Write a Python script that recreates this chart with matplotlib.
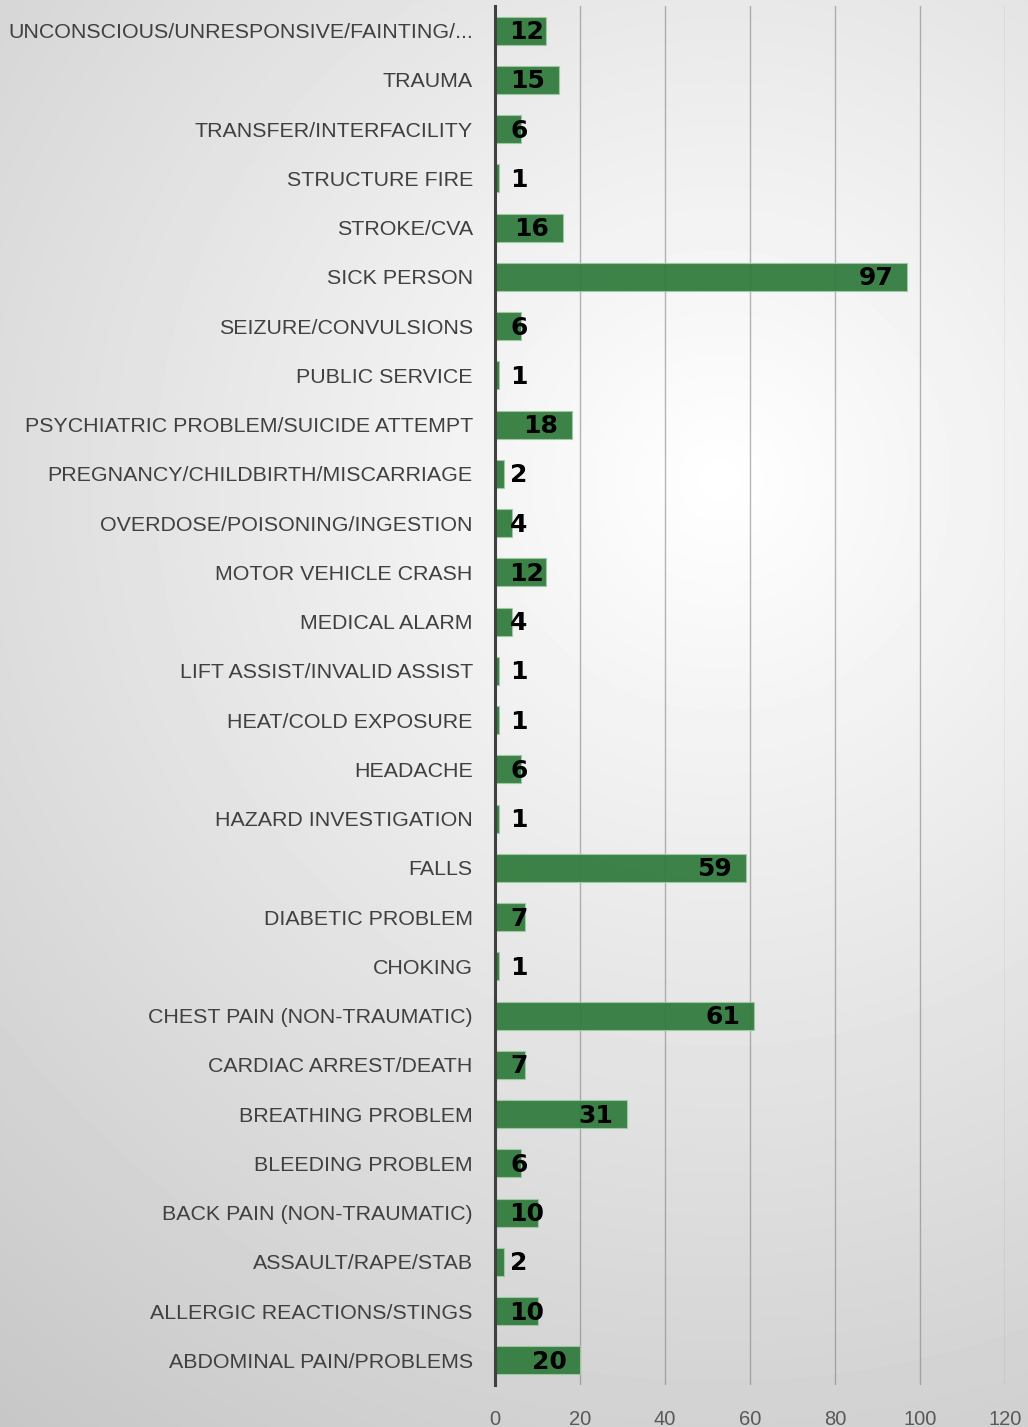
import numpy as np
import matplotlib.pyplot as plt

# categorii (de sus in jos, ca in grafic)
categorii = [
    "UNCONSCIOUS/UNRESPONSIVE/FAINTING/...", "TRAUMA", "TRANSFER/INTERFACILITY",
    "STRUCTURE FIRE", "STROKE/CVA", "SICK PERSON", "SEIZURE/CONVULSIONS",
    "PUBLIC SERVICE", "PSYCHIATRIC PROBLEM/SUICIDE ATTEMPT",
    "PREGNANCY/CHILDBIRTH/MISCARRIAGE", "OVERDOSE/POISONING/INGESTION",
    "MOTOR VEHICLE CRASH", "MEDICAL ALARM", "LIFT ASSIST/INVALID ASSIST",
    "HEAT/COLD EXPOSURE", "HEADACHE", "HAZARD INVESTIGATION", "FALLS",
    "DIABETIC PROBLEM", "CHOKING", "CHEST PAIN (NON-TRAUMATIC)",
    "CARDIAC ARREST/DEATH", "BREATHING PROBLEM", "BLEEDING PROBLEM",
    "BACK PAIN (NON-TRAUMATIC)", "ASSAULT/RAPE/STAB",
    "ALLERGIC REACTIONS/STINGS", "ABDOMINAL PAIN/PROBLEMS",
]
valori = [12, 15, 6, 1, 16, 97, 6, 1, 18, 2, 4, 12, 4, 1, 1, 6, 1, 59, 7, 1,
          61, 7, 31, 6, 10, 2, 10, 20]
ticks_x = [0, 20, 40, 60, 80, 100, 120]

W, H = 1028, 1427
fig = plt.figure(figsize=(W / 100, H / 100), dpi=100)

# fundal cu gradient radial (alb in centru, gri la margini)
bg = fig.add_axes([0, 0, 1, 1], zorder=0)
yy, xx = np.mgrid[0:H, 0:W]
r = np.sqrt((xx - 720) ** 2 + (yy - 480) ** 2) / 1180
val = np.clip(1.0 - 0.22 * np.clip(r, 0, 1.2), 0, 1)
bg.imshow(val, cmap="gray", vmin=0, vmax=1, aspect="auto", interpolation="bilinear")
bg.axis("off")

ax = fig.add_axes([495 / W, 1 - 1385 / H, 510 / W, 1379 / H], zorder=1)
ax.patch.set_alpha(0)

n = len(categorii)
y = np.arange(n)[::-1]
ax.barh(y, valori, height=0.57, color="#2f7a3b", alpha=0.93,
        edgecolor="#9fc9a5", linewidth=0.8, zorder=3)

ax.set_xlim(0, 120)
ax.set_ylim(-0.5, n - 0.5)
ax.set_yticks(y)
ax.set_yticklabels(categorii, fontsize=15.4, color="#404040", family="Liberation Sans")
ax.set_xticks(ticks_x)
ax.set_xticklabels([str(t) for t in ticks_x], fontsize=14.5, color="#595959",
                   family="Liberation Sans")
ax.tick_params(axis="y", length=0, pad=16)
ax.tick_params(axis="x", length=0, pad=18)

ax.grid(axis="x", color="#7a7a7a", alpha=0.55, linewidth=1.0, zorder=1)
ax.set_axisbelow(True)
for s in ["top", "right", "bottom"]:
    ax.spines[s].set_visible(False)
ax.spines["left"].set_color("#404040")
ax.spines["left"].set_linewidth(2.2)
ax.spines["left"].set_zorder(4)

# etichete: capatul din dreapta al barei minus un spatiu, dar nu prea aproape de axa
px = 510 / 120
for yi, v in zip(y, valori):
    w = len(str(v)) * 16 / px
    cx = max(v - 15 / px - w / 2, 16 / px + w / 2)
    ax.text(cx, yi - 0.03, str(v), ha="center", va="center", fontsize=18,
            fontweight="bold", color="black", family="DejaVu Sans", zorder=5)

fig.savefig("out.png", dpi=100)
